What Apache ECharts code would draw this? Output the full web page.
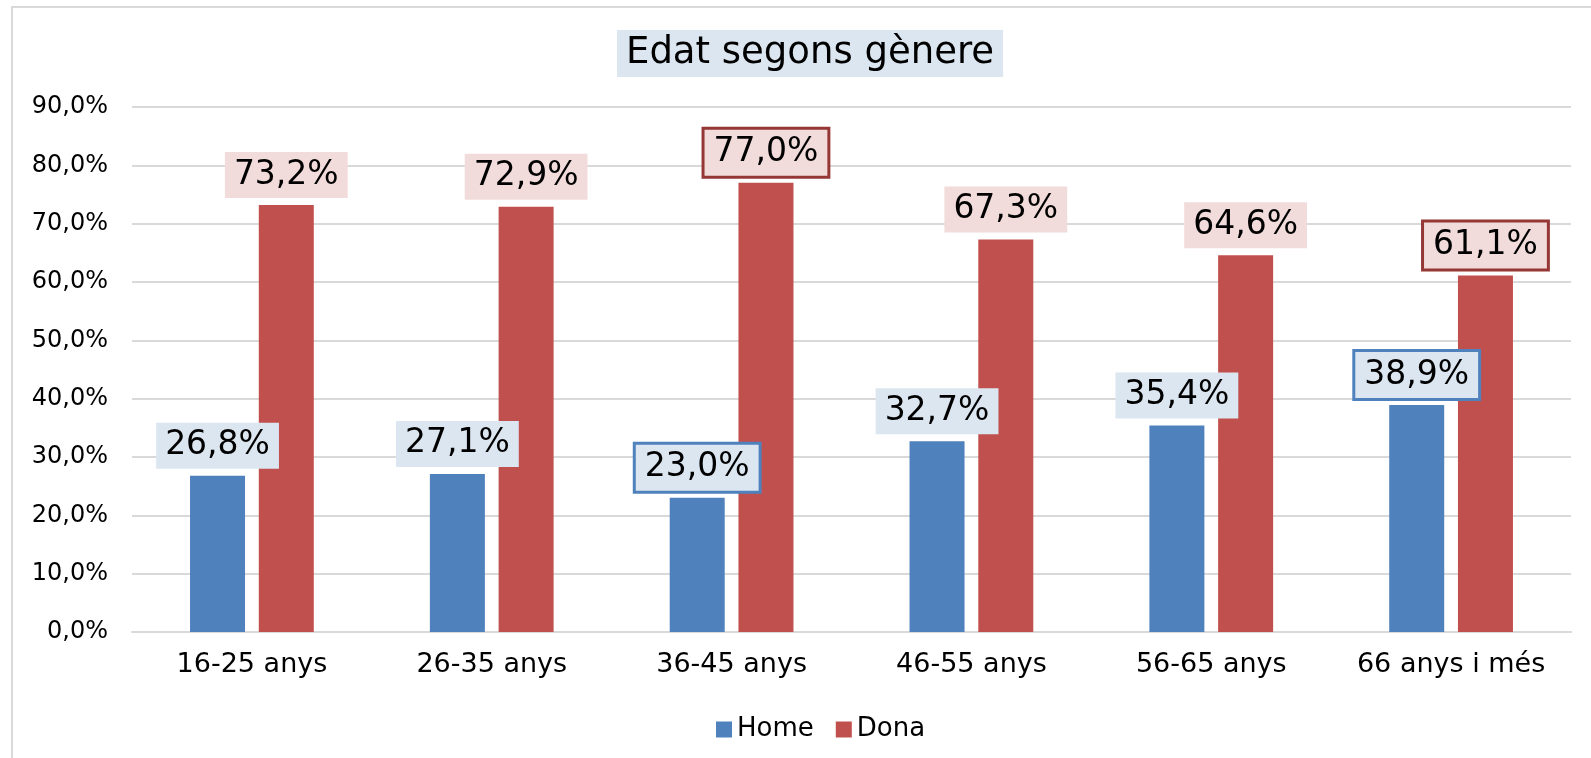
<!DOCTYPE html>
<html>
<head>
<meta charset="utf-8">
<script src="https://cdn.jsdelivr.net/npm/echarts@6/dist/echarts.min.js"></script>
<style>
  html, body { margin: 0; padding: 0; background: #fff; }
  #chart { width: 1591px; height: 758px; }
</style>
</head>
<body>
<div id="chart"></div>
<script>
// dades
const categories = ['16-25 anys', '26-35 anys', '36-45 anys', '46-55 anys', '56-65 anys', '66 anys i més']
const homeData = [26.8, 27.1, 23.0, 32.7, 35.4, 38.9]
const donaData = [73.2, 72.9, 77.0, 67.3, 64.6, 61.1]
// etiquetes amb vora (índexs de categoria)
const homeOutlined = [2, 5]
const donaOutlined = [2, 5]
const seriesNames = ['Home', 'Dona']

const fmt = v => v.toFixed(1).replace('.', ',') + '%'

const buildData = (values, outlined, borderColor) =>
  values.map((v, i) => outlined.includes(i)
    ? { value: v, label: { borderColor: borderColor, borderWidth: 3 } }
    : v)

const labelStyle = bg => ({
  show: true,
  position: 'top',
  distance: 7,
  formatter: p => fmt(p.value),
  fontFamily: 'DejaVu Sans',
  fontSize: 33,
  lineHeight: 36,
  color: '#000',
  backgroundColor: bg,
  padding: [5, 9]
})

const chart = echarts.init(document.getElementById('chart'))

const option = {
  animation: false,
  backgroundColor: '#fff',
  textStyle: { fontFamily: 'DejaVu Sans' },
  graphic: [{
    type: 'rect',
    shape: { x: 12, y: 7, width: 1600, height: 800 },
    style: { fill: 'none', stroke: '#d9d9d9', lineWidth: 2 },
    silent: true
  }],
  title: {
    text: 'Edat segons gènere',
    left: 617,
    top: 30,
    backgroundColor: '#dce6f1',
    padding: [5, 9],
    textStyle: { fontFamily: 'DejaVu Sans', fontSize: 37, lineHeight: 37, fontWeight: 'normal', color: '#000' }
  },
  legend: {
    data: seriesNames,
    left: 711,
    top: 711,
    icon: 'rect',
    itemWidth: 16,
    itemHeight: 16,
    itemGap: 22,
    textStyle: { fontFamily: 'DejaVu Sans', fontSize: 26, lineHeight: 27, color: '#000' }
  },
  grid: { left: 132, right: 20, top: 107, bottom: 126, containLabel: false },
  xAxis: {
    type: 'category',
    data: categories,
    axisLine: { lineStyle: { color: '#d9d9d9', width: 2 } },
    axisTick: { show: false },
    axisLabel: { interval: 0, fontFamily: 'DejaVu Sans', fontSize: 27, color: '#000', margin: 19 }
  },
  yAxis: {
    type: 'value',
    min: 0,
    max: 90,
    interval: 10,
    axisLine: { show: false },
    axisTick: { show: false },
    splitLine: { lineStyle: { color: '#d9d9d9', width: 2 } },
    axisLabel: { fontFamily: 'DejaVu Sans', fontSize: 24, color: '#000', margin: 24, formatter: v => fmt(v) }
  },
  series: [
    {
      name: seriesNames[0],
      type: 'bar',
      barWidth: 55,
      barGap: '25%',
      itemStyle: { color: '#4f81bd' },
      label: labelStyle('#dce6f1'),
      data: buildData(homeData, homeOutlined, '#4f81bd')
    },
    {
      name: seriesNames[1],
      type: 'bar',
      barWidth: 55,
      barGap: '25%',
      itemStyle: { color: '#c0504d' },
      label: labelStyle('#f2dcdb'),
      data: buildData(donaData, donaOutlined, '#953735')
    }
  ]
}

chart.setOption(option)
</script>
</body>
</html>
